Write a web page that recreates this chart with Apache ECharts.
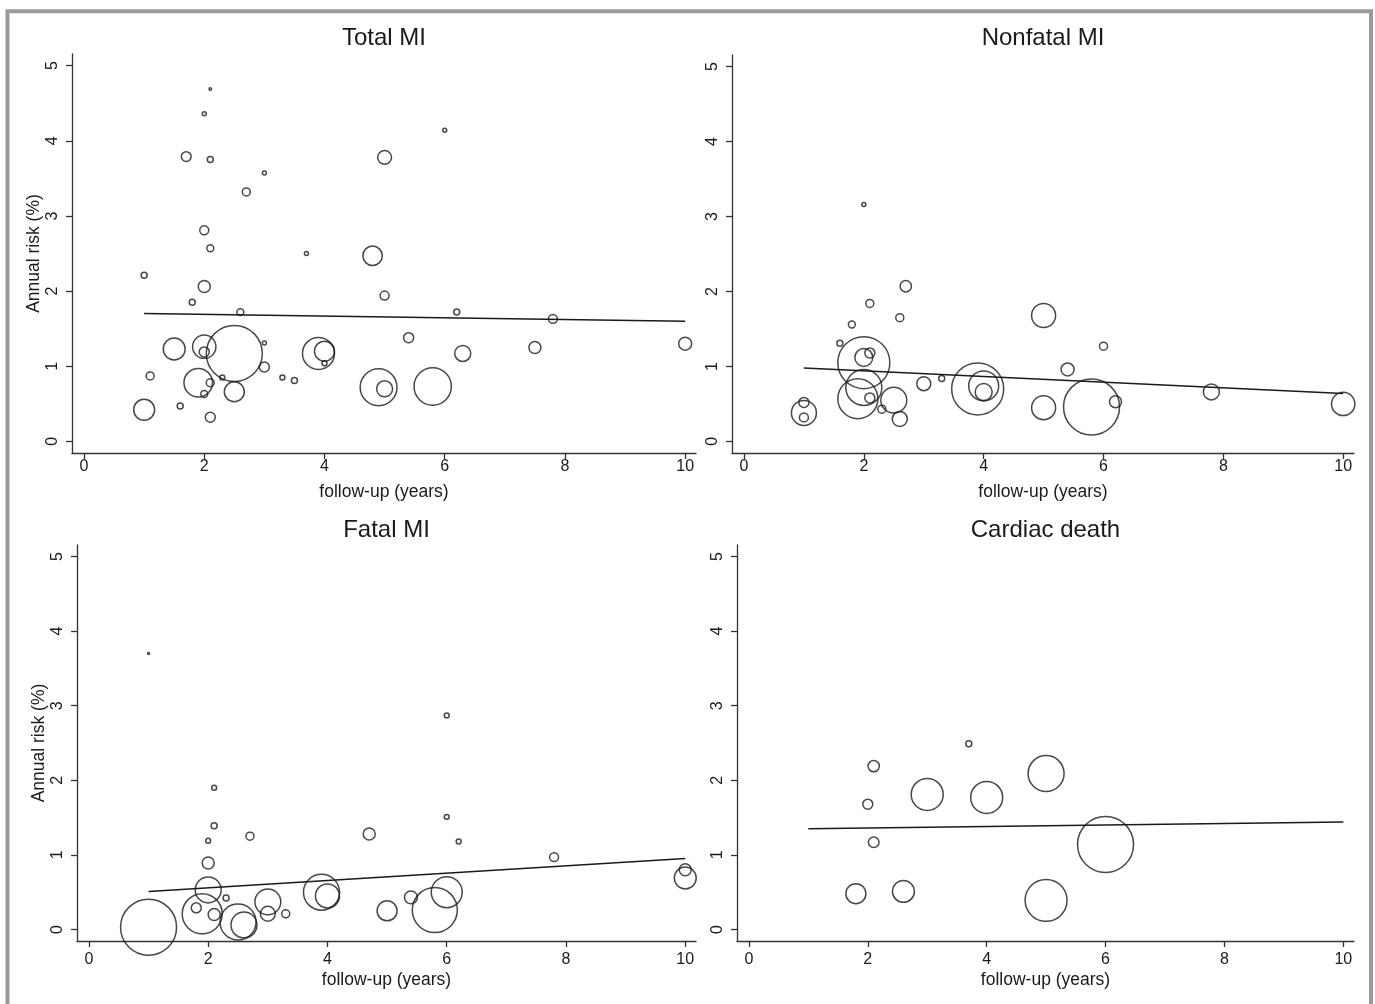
<!DOCTYPE html>
<html><head><meta charset="utf-8">
<script src="https://cdn.jsdelivr.net/npm/echarts@6/dist/echarts.min.js"></script>
<style>html,body{margin:0;padding:0;background:#fff;} #c{width:1375px;height:1004px;}</style>
</head><body><div id="c"></div>
<script>
const panelTitles = ['Total MI', 'Nonfatal MI', 'Fatal MI', 'Cardiac death'];
const xTicks = [0, 2, 4, 6, 8, 10];
const yTicks = [0, 1, 2, 3, 4, 5];
const xAxisTitle = 'follow-up (years)';
const yAxisTitle = 'Annual risk (%)';

// [follow-up (years), annual risk (%), study weight]
const totalMI = [
  [2.1,4.69,0.4],[2.0,4.36,1],[1.7,3.79,6],[2.1,3.75,2.25],[3.0,3.57,1],[2.7,3.32,4],
  [5.0,3.78,12],[6.0,4.14,1],[2.0,2.81,5],[2.1,2.57,3],[3.7,2.50,1],[4.8,2.47,23.5],
  [1.0,2.21,2.25],[2.0,2.06,9],[5.0,1.94,5],[1.8,1.85,2.25],[2.6,1.72,3],[6.2,1.72,2.25],
  [7.8,1.63,5],[1.5,1.23,30],[2.0,1.26,34],[2.0,1.19,6.25],[2.5,1.17,196],[3.0,1.31,1],
  [3.0,0.99,6.25],[3.9,1.17,64],[4.0,1.20,25],[4.0,1.04,1.6],[1.1,0.87,4],[1.9,0.78,51],
  [2.1,0.78,4],[2.0,0.63,3],[2.3,0.85,1.6],[2.5,0.66,25],[3.3,0.85,1.6],[3.5,0.81,2.25],
  [1.0,0.42,27.5],[1.6,0.47,2.25],[2.1,0.32,6.25],[4.9,0.72,85],[5.0,0.70,16],[5.8,0.73,87],
  [5.4,1.38,6.25],[6.3,1.17,16],[7.5,1.25,9],[10.0,1.30,10.5]
];
const nonfatalMI = [
  [2.0,3.16,1],[2.7,2.07,8],[2.1,1.84,4],[2.6,1.65,4],[1.8,1.56,3],[1.6,1.31,2.25],
  [5.0,1.68,36],[6.0,1.27,4],[2.0,1.05,169],[2.0,1.12,20],[2.1,1.18,6.25],[2.0,0.72,81],
  [1.9,0.57,100],[2.1,0.58,6.25],[2.5,0.55,42],[2.3,0.43,4],[2.6,0.30,14],[3.0,0.77,12.25],
  [3.3,0.84,2.25],[3.9,0.70,169],[4.0,0.74,56],[4.0,0.66,18],[5.0,0.45,36],[5.4,0.96,10.5],
  [5.8,0.46,196],[6.2,0.53,9],[1.0,0.38,39],[1.0,0.52,6.25],[1.0,0.32,5],[7.8,0.66,16],
  [10.0,0.50,34]
];
const fatalMI = [
  [1.0,3.70,0.25],[6.0,2.87,1.5],[2.1,1.90,1.5],[2.1,1.39,2.25],[2.0,1.19,1.5],[2.7,1.25,4],
  [4.7,1.28,9],[6.0,1.51,1.5],[6.2,1.18,1.5],[2.0,0.89,9],[2.0,0.53,42],[1.9,0.21,100],
  [1.8,0.29,6.25],[2.1,0.20,9],[2.3,0.42,2.25],[2.5,0.10,81],[2.6,0.06,42],[3.0,0.37,42],
  [3.0,0.21,14],[3.3,0.21,4],[3.9,0.50,81],[4.0,0.45,36],[5.0,0.25,25],[5.4,0.43,10.5],
  [5.8,0.26,127],[6.0,0.50,60],[1.0,0.03,196],[7.8,0.97,5],[10.0,0.80,9],[10.0,0.69,30]
];
const cardiacDeath = [
  [3.7,2.49,2.25],[2.1,2.19,8],[2.0,1.68,6.25],[2.1,1.17,7],[3.0,1.81,64],[4.0,1.77,64],
  [5.0,2.09,81],[6.0,1.14,196],[1.8,0.48,25],[2.6,0.51,30],[5.0,0.39,110]
];
// meta-regression lines [follow-up, fitted risk]
const totalMIFit = [[1, 1.70], [10, 1.60]];
const nonfatalMIFit = [[1, 0.98], [10, 0.64]];
const fatalMIFit = [[1, 0.51], [10, 0.95]];
const cardiacDeathFit = [[1, 1.35], [10, 1.44]];

const panelData = [totalMI, nonfatalMI, fatalMI, cardiacDeath];
const panelFits = [totalMIFit, nonfatalMIFit, fatalMIFit, cardiacDeathFit];

const grids = [
  {left: 72, top: 54, width: 624, height: 399},
  {left: 732, top: 55, width: 622, height: 398},
  {left: 77, top: 545, width: 619, height: 396},
  {left: 737, top: 545, width: 617, height: 396}
];
const ink = '#1a1a1a';
const axisInk = '#333';
const font = 'Liberation Sans, Arial, Helvetica, sans-serif';

const option = {
  animation: false,
  backgroundColor: '#fff',
  textStyle: {fontFamily: font},
  title: grids.map((g, i) => ({
    text: panelTitles[i],
    left: g.left + g.width / 2,
    top: i < 2 ? 26 : 518,
    textAlign: 'center',
    padding: 0,
    textStyle: {fontSize: 24, fontWeight: 'normal', color: ink, fontFamily: font}
  })),
  grid: grids.map(g => Object.assign({outerBoundsMode: 'none', containLabel: false}, g)),
  xAxis: grids.map((g, i) => ({
    gridIndex: i, type: 'value', min: -0.2, max: 10.18,
    name: xAxisTitle, nameLocation: 'middle', nameGap: 30,
    nameTextStyle: {fontSize: 17.5, color: ink, fontFamily: font},
    axisLine: {show: true, onZero: false, lineStyle: {color: axisInk, width: 1.3}},
    axisTick: {show: true, customValues: xTicks, length: 6, lineStyle: {color: axisInk, width: 1.3}},
    axisLabel: {show: true, customValues: xTicks, margin: i < 2 ? 6 : 11, fontSize: 16, color: ink, fontFamily: font},
    splitLine: {show: false}
  })),
  yAxis: grids.map((g, i) => ({
    gridIndex: i, type: 'value', min: -0.155, max: 5.155,
    name: (i % 2 === 0) ? yAxisTitle : '', nameLocation: 'middle', nameGap: 29,
    nameTextStyle: {fontSize: 17.5, color: ink, fontFamily: font},
    axisLine: {show: true, onZero: false, lineStyle: {color: axisInk, width: 1.3}},
    axisTick: {show: true, customValues: yTicks, length: 6, lineStyle: {color: axisInk, width: 1.3}},
    axisLabel: {show: true, customValues: yTicks, rotate: 90, margin: 11, fontSize: 16, color: ink, fontFamily: font},
    splitLine: {show: false}
  })),
  graphic: [{
    type: 'rect', silent: true, z: 100,
    shape: {x: 7.5, y: 11.3, width: 1363.5, height: 1010},
    style: {fill: 'none', stroke: '#9a9a9a', lineWidth: 4}
  }],
  series: []
};

panelData.forEach((d, i) => {
  option.series.push({
    type: 'scatter', xAxisIndex: i, yAxisIndex: i, data: d,
    symbol: 'circle',
    symbolSize: v => 4 * Math.sqrt(v[2]),
    itemStyle: {color: 'rgba(0,0,0,0)', borderColor: ink, borderWidth: 1.5},
    emphasis: {disabled: true}, silent: true
  });
  option.series.push({
    type: 'line', xAxisIndex: i, yAxisIndex: i, data: panelFits[i],
    symbol: 'none', lineStyle: {color: ink, width: 1.5},
    emphasis: {disabled: true}, silent: true
  });
});

const chart = echarts.init(document.getElementById('c'), null, {renderer: 'canvas'});
chart.setOption(option);
</script>
</body></html>
